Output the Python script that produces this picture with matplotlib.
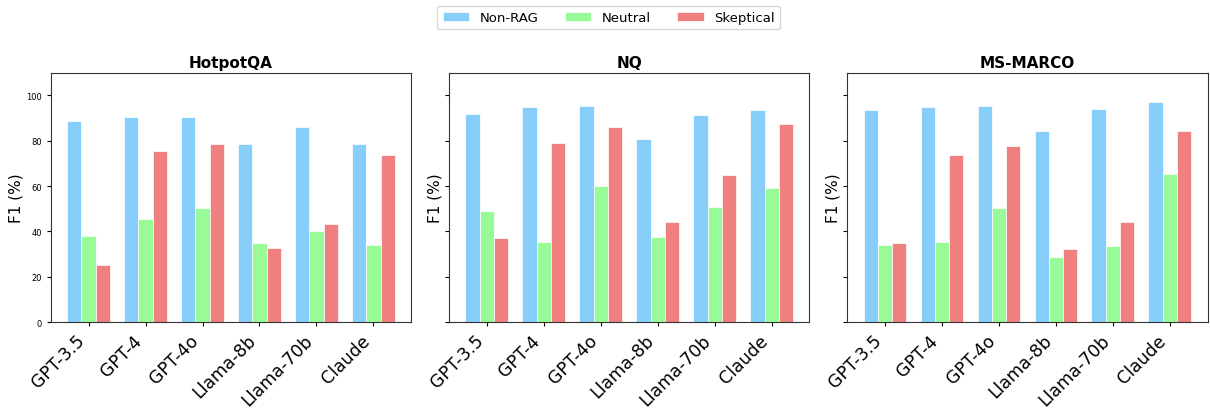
import matplotlib
matplotlib.use("Agg")
import matplotlib.pyplot as plt
import numpy as np

models = ["GPT-3.5", "GPT-4", "GPT-4o", "Llama-8b", "Llama-70b", "Claude"]
datasets = ["HotpotQA", "NQ", "MS-MARCO"]
series = ["Non-RAG", "Neutral", "Skeptical"]
colors = ["lightskyblue", "palegreen", "lightcoral"]

hotpot_nonrag = [88.8, 90.6, 90.3, 78.5, 86.0, 78.8]
hotpot_neutral = [38.1, 45.3, 50.4, 35.1, 40.4, 33.8]
hotpot_skeptical = [25.2, 75.7, 78.5, 32.9, 43.2, 73.6]

nq_nonrag = [91.6, 94.7, 95.4, 81.0, 91.3, 93.5]
nq_neutral = [49.1, 35.5, 59.9, 37.5, 51.0, 59.3]
nq_skeptical = [36.9, 78.9, 86.0, 44.0, 65.0, 87.6]

msmarco_nonrag = [93.4, 94.8, 95.4, 84.2, 94.1, 97.0]
msmarco_neutral = [33.8, 35.5, 50.4, 28.5, 33.5, 65.2]
msmarco_skeptical = [35.1, 73.9, 77.9, 32.2, 44.0, 84.2]

data = [
    [hotpot_nonrag, hotpot_neutral, hotpot_skeptical],
    [nq_nonrag, nq_neutral, nq_skeptical],
    [msmarco_nonrag, msmarco_neutral, msmarco_skeptical],
]

fig, axes = plt.subplots(1, 3, figsize=(12.1, 4.1), dpi=100, sharey=True)
fig.subplots_adjust(left=0.042, right=0.998, top=0.82, bottom=0.212, wspace=0.105)

x = np.arange(len(models))
w = 0.25
for ax, name, vals in zip(axes, datasets, data):
    for i, (s, c, v) in enumerate(zip(series, colors, vals)):
        ax.bar(x + (i - 1) * w, v, w, color=c, edgecolor="white", linewidth=0.5, label=s)
    ax.set_title(name, fontsize=11, fontweight="bold", pad=4)
    ax.set_xticks(x)
    ax.set_xticklabels(models, rotation=45, ha="right", fontsize=12.5)
    ax.set_ylabel("F1 (%)", fontsize=11, labelpad=2)
    ax.set_ylim(0, 110)
    ax.tick_params(axis="y", labelsize=6, length=3)
    ax.tick_params(axis="x", length=3)
    for sp in ax.spines.values():
        sp.set_color("#333333")

handles, labels = axes[0].get_legend_handles_labels()
fig.legend(handles, labels, loc="upper center", bbox_to_anchor=(0.503, 1.0), ncol=3, fontsize=9.5)
fig.savefig("out.png")
